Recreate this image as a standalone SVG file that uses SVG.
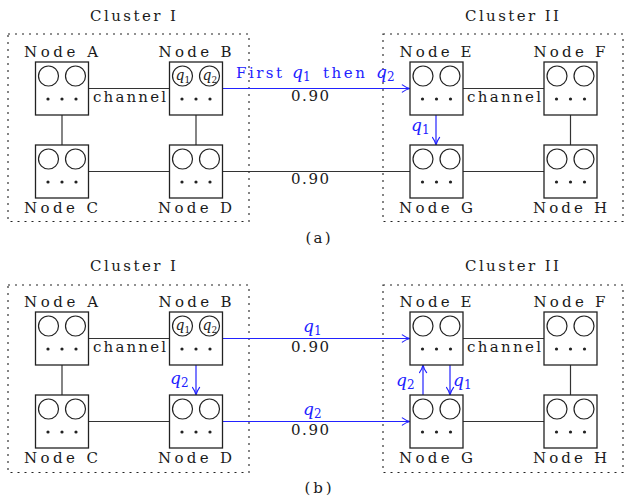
<svg xmlns="http://www.w3.org/2000/svg" xmlns:xlink="http://www.w3.org/1999/xlink" width="624" height="502" viewBox="0 0 624 502">
<style>
.t{font-family:"DejaVu Serif","Liberation Serif",serif;font-size:15px;fill:#1a1a1a;}
.c{text-anchor:middle;}
.m{font-family:"DejaVu Serif","Liberation Serif",serif;font-style:italic;font-size:17px;fill:#2222ff;}
.mb{fill:#2222ff;font-family:"DejaVu Serif","Liberation Serif",serif;font-size:15px;}
.s{font-style:normal;font-size:12px;}
.qi{font-family:"DejaVu Serif","Liberation Serif",serif;font-style:italic;font-size:14px;fill:#1a1a1a;}
.qs{font-style:normal;font-size:9px;}
.ln{stroke:#333;stroke-width:1.2;fill:none;}
.bl{stroke:#2222ff;stroke-width:1.2;fill:none;}
.ar{marker-end:url(#arr);}
.cl{fill:none;stroke:#222;stroke-width:1.1;stroke-dasharray:2 5;}
.bx{fill:#fff;stroke:#222;stroke-width:1.3;}
.ci{fill:none;stroke:#222;stroke-width:1.2;}
.dt{fill:#222;}
</style>
<defs>
<marker id="arr" viewBox="0 0 10 10" refX="9.5" refY="5" markerWidth="9" markerHeight="9" markerUnits="userSpaceOnUse" orient="auto">
<path d="M1,1 Q5,4 9.5,5 Q5,6 1,9" fill="none" stroke="#2222ff" stroke-width="1.3" stroke-linecap="round"/>
</marker>
<g id="nb">
<rect class="bx" x="0" y="0" width="53" height="53"/>
<circle class="ci" cx="13" cy="14" r="10"/>
<circle class="ci" cx="40" cy="14" r="10"/>
<circle class="dt" cx="12.5" cy="37" r="1.6"/>
<circle class="dt" cx="26.5" cy="37" r="1.6"/>
<circle class="dt" cx="40.5" cy="37" r="1.6"/>
</g>
</defs>
<rect width="624" height="502" fill="#fff"/>

<!-- ===== Panel (a) ===== -->
<g id="a-clusters">
<rect class="cl" x="8" y="34" width="241" height="187.5"/>
<rect class="cl" x="383" y="34" width="240" height="187.5"/>
<text class="t c" x="133" y="21" textLength="86" lengthAdjust="spacing">Cluster I</text>
<text class="t c" x="512" y="21" textLength="94" lengthAdjust="spacing">Cluster II</text>
</g>
<g id="a-connectors">
<line class="ln" x1="88.5" y1="88.5" x2="169.5" y2="88.5"/>
<line class="ln" x1="62" y1="115" x2="62" y2="145"/>
<line class="ln" x1="196" y1="115" x2="196" y2="145"/>
<line class="ln" x1="88.5" y1="171.5" x2="169.5" y2="171.5"/>
<line class="ln" x1="463" y1="88.5" x2="544" y2="88.5"/>
<line class="ln" x1="570.5" y1="115" x2="570.5" y2="145"/>
<line class="ln" x1="463" y1="171.5" x2="544" y2="171.5"/>
<line class="ln" x1="222.5" y1="171.5" x2="410" y2="171.5"/>
<line class="bl ar" x1="222.5" y1="88.5" x2="410" y2="88.5"/>
<line class="bl ar" x1="436" y1="115" x2="436" y2="145"/>
<text class="t" x="93" y="102" textLength="73" lengthAdjust="spacing">channel</text>
<text class="t" x="467" y="102" textLength="74" lengthAdjust="spacing">channel</text>
<text class="t c" x="310" y="101" textLength="38" lengthAdjust="spacing">0.90</text>
<text class="t c" x="310" y="184" textLength="38" lengthAdjust="spacing">0.90</text>
<text class="mb" x="236" y="78" textLength="46" lengthAdjust="spacing">First</text>
<text class="m" x="292" y="78">q<tspan class="s" dy="3">1</tspan></text>
<text class="mb" x="323" y="78" textLength="42" lengthAdjust="spacing">then</text>
<text class="m" x="376" y="78">q<tspan class="s" dy="3">2</tspan></text>
<text class="m" x="411" y="131">q<tspan class="s" dy="3">1</tspan></text>
</g>
<g id="a-nodeA"><use xlink:href="#nb" x="35.5" y="62"/><text class="t c" x="61" y="57" textLength="74" lengthAdjust="spacing">Node A</text></g>
<g id="a-nodeB"><use xlink:href="#nb" x="169.5" y="62"/>
<text class="qi" x="175.5" y="80">q<tspan class="qs" dy="2.5">1</tspan></text>
<text class="qi" x="202.5" y="80">q<tspan class="qs" dy="2.5">2</tspan></text>
<text class="t c" x="195" y="57" textLength="73" lengthAdjust="spacing">Node B</text></g>
<g id="a-nodeC"><use xlink:href="#nb" x="35.5" y="145"/><text class="t c" x="61" y="213" textLength="74" lengthAdjust="spacing">Node C</text></g>
<g id="a-nodeD"><use xlink:href="#nb" x="169.5" y="145"/><text class="t c" x="195" y="213" textLength="74" lengthAdjust="spacing">Node D</text></g>
<g id="a-nodeE"><use xlink:href="#nb" x="410" y="62"/><text class="t c" x="435.5" y="57" textLength="72" lengthAdjust="spacing">Node E</text></g>
<g id="a-nodeF"><use xlink:href="#nb" x="544" y="62"/><text class="t c" x="569.5" y="57" textLength="72" lengthAdjust="spacing">Node F</text></g>
<g id="a-nodeG"><use xlink:href="#nb" x="410" y="145"/><text class="t c" x="436" y="213" textLength="74" lengthAdjust="spacing">Node G</text></g>
<g id="a-nodeH"><use xlink:href="#nb" x="544" y="145"/><text class="t c" x="570" y="213" textLength="74" lengthAdjust="spacing">Node H</text></g>
<text class="t c" x="318" y="243" textLength="25" lengthAdjust="spacing">(a)</text>

<!-- ===== Panel (b) ===== -->
<g id="b-clusters">
<rect class="cl" x="8" y="285" width="241" height="187.5"/>
<rect class="cl" x="383" y="285" width="240" height="187.5"/>
<text class="t c" x="133" y="271" textLength="86" lengthAdjust="spacing">Cluster I</text>
<text class="t c" x="512" y="271" textLength="94" lengthAdjust="spacing">Cluster II</text>
</g>
<g id="b-connectors">
<line class="ln" x1="88.5" y1="338.5" x2="169.5" y2="338.5"/>
<line class="ln" x1="62" y1="365" x2="62" y2="395"/>
<line class="ln" x1="88.5" y1="421.5" x2="169.5" y2="421.5"/>
<line class="ln" x1="463" y1="338.5" x2="544" y2="338.5"/>
<line class="ln" x1="570.5" y1="365" x2="570.5" y2="395"/>
<line class="ln" x1="463" y1="421.5" x2="544" y2="421.5"/>
<line class="bl ar" x1="196" y1="365" x2="196" y2="395"/>
<line class="bl ar" x1="222.5" y1="338.5" x2="410" y2="338.5"/>
<line class="bl ar" x1="222.5" y1="421.5" x2="410" y2="421.5"/>
<line class="bl ar" x1="423" y1="395" x2="423" y2="365"/>
<line class="bl ar" x1="450" y1="365" x2="450" y2="395"/>
<text class="t" x="93" y="352" textLength="73" lengthAdjust="spacing">channel</text>
<text class="t" x="467" y="352" textLength="74" lengthAdjust="spacing">channel</text>
<text class="t c" x="310" y="352" textLength="38" lengthAdjust="spacing">0.90</text>
<text class="t c" x="310" y="435" textLength="38" lengthAdjust="spacing">0.90</text>
<text class="m" x="303" y="332">q<tspan class="s" dy="3">1</tspan></text>
<text class="m" x="303" y="415">q<tspan class="s" dy="3">2</tspan></text>
<text class="m" x="170" y="384">q<tspan class="s" dy="3">2</tspan></text>
<text class="m" x="396" y="386">q<tspan class="s" dy="3">2</tspan></text>
<text class="m" x="453" y="386">q<tspan class="s" dy="3">1</tspan></text>
</g>
<g id="b-nodeA"><use xlink:href="#nb" x="35.5" y="312"/><text class="t c" x="61" y="307" textLength="74" lengthAdjust="spacing">Node A</text></g>
<g id="b-nodeB"><use xlink:href="#nb" x="169.5" y="312"/>
<text class="qi" x="175.5" y="330">q<tspan class="qs" dy="2.5">1</tspan></text>
<text class="qi" x="202.5" y="330">q<tspan class="qs" dy="2.5">2</tspan></text>
<text class="t c" x="195" y="307" textLength="73" lengthAdjust="spacing">Node B</text></g>
<g id="b-nodeC"><use xlink:href="#nb" x="35.5" y="395"/><text class="t c" x="61" y="463" textLength="74" lengthAdjust="spacing">Node C</text></g>
<g id="b-nodeD"><use xlink:href="#nb" x="169.5" y="395"/><text class="t c" x="195" y="463" textLength="74" lengthAdjust="spacing">Node D</text></g>
<g id="b-nodeE"><use xlink:href="#nb" x="410" y="312"/><text class="t c" x="435.5" y="307" textLength="72" lengthAdjust="spacing">Node E</text></g>
<g id="b-nodeF"><use xlink:href="#nb" x="544" y="312"/><text class="t c" x="569.5" y="307" textLength="72" lengthAdjust="spacing">Node F</text></g>
<g id="b-nodeG"><use xlink:href="#nb" x="410" y="395"/><text class="t c" x="436" y="463" textLength="74" lengthAdjust="spacing">Node G</text></g>
<g id="b-nodeH"><use xlink:href="#nb" x="544" y="395"/><text class="t c" x="570" y="463" textLength="74" lengthAdjust="spacing">Node H</text></g>
<text class="t c" x="318" y="493" textLength="27" lengthAdjust="spacing">(b)</text>
</svg>
